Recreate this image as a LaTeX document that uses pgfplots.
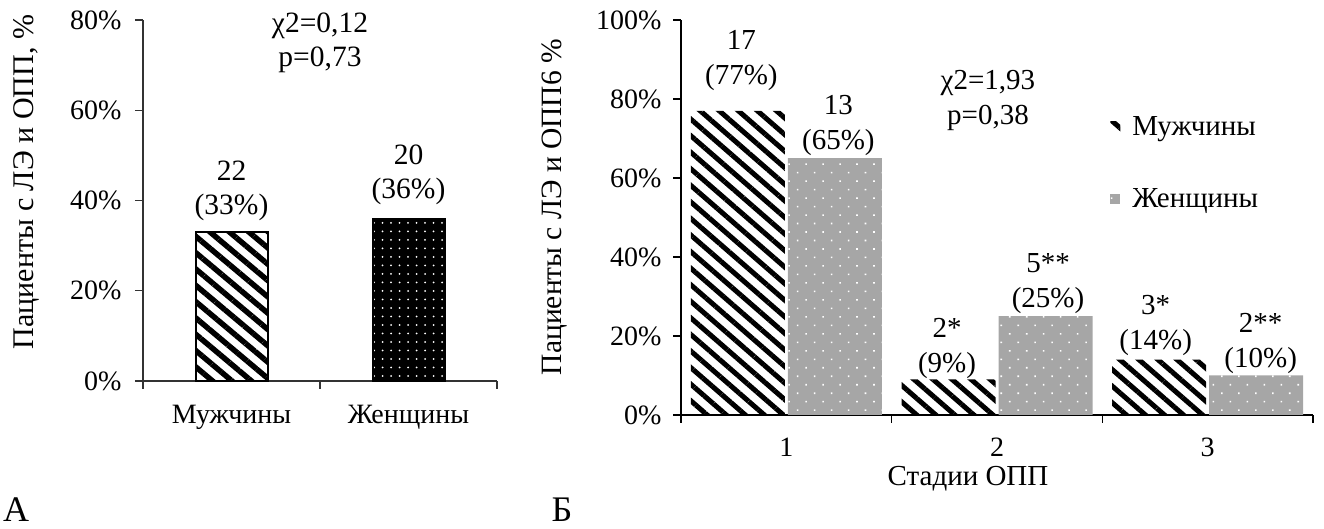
\documentclass[border=0pt]{standalone}
\usepackage{pgfplots}
\pgfplotsset{compat=1.18}
\usepackage{fontspec}
\setmainfont{Liberation Serif}
\usetikzlibrary{patterns.meta}
\newcommand{\tfont}{\fontsize{28}{33}\selectfont}
\newcommand{\lfont}{\fontsize{29.5}{34}\selectfont}
\newcommand{\rfont}{\fontsize{29}{35}\selectfont}
\newcommand{\afont}{\fontsize{30}{35}\selectfont}
\begin{document}
\begin{tikzpicture}
\path[use as bounding box] (0pt,0pt) rectangle (1324pt,529pt);
% ---------- Panel A ----------
\begin{axis}[
  at={(143pt,148pt)}, anchor=south west,
  scale only axis, width=354pt, height=361pt,
  xmin=0, xmax=2, ymin=0, ymax=80,
  clip=false,
  axis x line*=bottom, axis y line*=left,
  axis line style={-, black!80, line width=1.3pt},
  ybar, bar width=72pt,
  xtick={0,1,2}, xticklabels={},
  extra x ticks={0.5,1.5}, extra x tick labels={Мужчины,Женщины},
  extra x tick style={major tick length=0pt},
  ytick={0,20,40,60,80}, yticklabels={0\%,20\%,40\%,60\%,80\%},
  tick align=outside, major tick length=8pt,
  tick style={black!80, line width=1.3pt},
  tick label style={font=\tfont},
  xticklabel style={yshift=-21pt},
  yticklabel style={xshift=-10pt},
]
\addplot[bar shift=0pt, draw=black, line width=2pt,
  pattern={Lines[angle=-40,distance=12.5pt,line width=5.5pt]}, pattern color=black]
  coordinates {(0.5,33)};
\addplot[bar shift=0pt, draw=black, line width=2pt, fill=black,
  postaction={pattern={Dots[distance=8.5pt,radius=1pt]}, pattern color=white}]
  coordinates {(1.5,36)};
\node[font=\lfont, align=center, anchor=south, inner sep=0pt, yshift=11pt] at (axis cs:0.5,33) {22\\(33\%)};
\node[font=\lfont, align=center, anchor=south, inner sep=0pt, yshift=14pt] at (axis cs:1.5,36) {20\\(36\%)};
\node[font=\lfont, align=center] at (axis cs:1.0,75) {χ2=0,12\\p=0,73};
\end{axis}
\node[rotate=90, font=\afont] at (26pt,347pt) {Пациенты с ЛЭ и ОПП, \%};
\node[font=\fontsize{36}{40}\selectfont, anchor=west, inner sep=0pt] at (3pt,19pt) {А};
% ---------- Panel B ----------
\begin{axis}[
  at={(681pt,114pt)}, anchor=south west,
  scale only axis, width=632pt, height=395pt,
  xmin=0, xmax=3, ymin=0, ymax=100,
  clip=false,
  axis x line*=bottom, axis y line*=left,
  axis line style={-, black, line width=1.6pt},
  ybar, bar width=94pt,
  xtick={0,1,2,3}, xticklabels={},
  extra x ticks={0.5,1.5,2.5}, extra x tick labels={1,2,3},
  extra x tick style={major tick length=0pt},
  ytick={0,20,40,60,80,100}, yticklabels={0\%,20\%,40\%,60\%,80\%,100\%},
  tick align=outside, major tick length=8pt,
  tick style={black, line width=1.6pt},
  tick label style={font=\tfont},
  xticklabel style={yshift=-19pt},
  yticklabel style={xshift=-8pt},
  legend style={at={(0.679,0.762)}, anchor=north west, draw=none, fill=none,
    font=\rfont, row sep=48pt, inner sep=0pt,
    /tikz/every odd column/.append style={column sep=10pt}},
  legend cell align=left,
  legend image code/.code={\path[#1] (0pt,-5pt) rectangle (10pt,5pt);},
]
\addplot[bar shift=-48.5pt, draw=none,
  pattern={Lines[angle=-41,distance=12.5pt,line width=5pt]}, pattern color=black]
  coordinates {(0.5,77) (1.5,9) (2.5,14)};
\addlegendentry{Мужчины}
\addplot[bar shift=48.5pt, draw=none, fill=black!35,
  postaction={pattern={Dots[angle=45,distance=12pt,radius=1.1pt]}, pattern color=white}]
  coordinates {(0.5,65) (1.5,25) (2.5,10)};
\addlegendentry{Женщины}
\node[font=\rfont, align=center, anchor=south, inner sep=0pt, yshift=20pt] at ([xshift=-45pt]axis cs:0.5,77) {17\\(77\%)};
\node[font=\rfont, align=center, anchor=south, inner sep=0pt, yshift=2pt] at ([xshift=52pt]axis cs:0.5,65) {13\\(65\%)};
\node[font=\rfont, align=center, anchor=south, inner sep=0pt, yshift=0.5pt] at ([xshift=-50pt]axis cs:1.5,9) {2*\\(9\%)};
\node[font=\rfont, align=center, anchor=south, inner sep=0pt, yshift=2.5pt] at ([xshift=51pt]axis cs:1.5,25) {5**\\(25\%)};
\node[font=\rfont, align=center, anchor=south, inner sep=0pt, yshift=3.5pt] at ([xshift=-52pt]axis cs:2.5,14) {3*\\(14\%)};
\node[font=\rfont, align=center, anchor=south, inner sep=0pt, yshift=2pt] at ([xshift=53pt]axis cs:2.5,10) {2**\\(10\%)};
\node[font=\rfont, align=center] at (axis cs:1.457,79.5) {χ2=1,93\\p=0,38};
\end{axis}
\node[rotate=90, font=\fontsize{29.5}{35}\selectfont] at (555pt,322pt) {Пациенты с ЛЭ и ОПП6 \%};
\node[font=\rfont, inner sep=1pt] at (968pt,50pt) {Стадии ОПП};
\node[font=\fontsize{36}{40}\selectfont, inner sep=0pt] at (562pt,19pt) {Б};
\end{tikzpicture}
\end{document}
